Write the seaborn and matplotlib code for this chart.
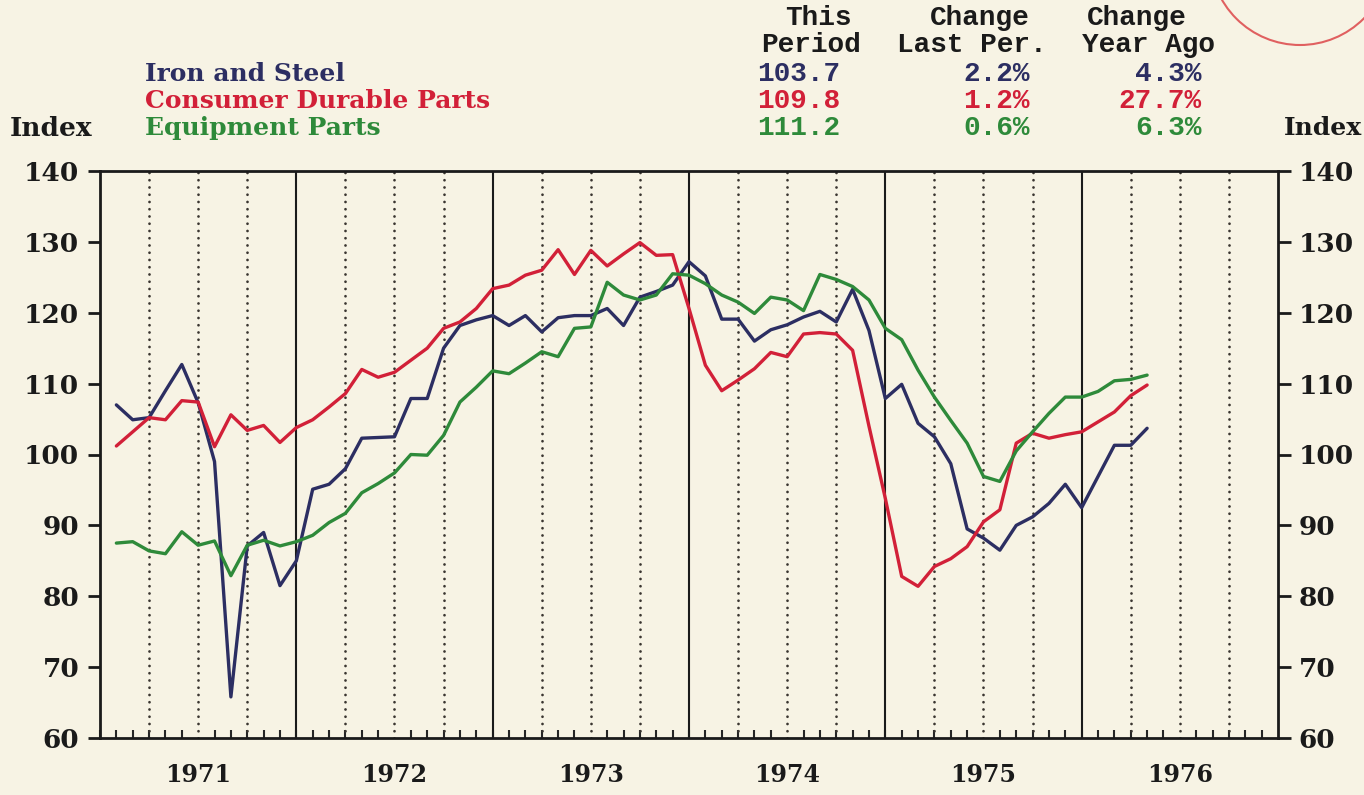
import numpy as np
import pandas as pd
import seaborn as sns
import matplotlib.pyplot as plt
from matplotlib.patches import Circle

W, H = 1364, 795

# monthly index values, Jan 1971 .. Apr 1976
months = pd.period_range('1971-01', '1976-04', freq='M')

iron_steel = [107.0, 104.9, 105.2, 109.0, 112.7, 107.3, 99.0, 65.8, 87.1, 89.0, 81.5, 85.0,
              95.1, 95.8, 98.0, 102.3, 102.4, 102.5, 107.9, 107.9, 115.0, 118.2, 119.0, 119.6,
              118.2, 119.6, 117.3, 119.3, 119.6, 119.6, 120.6, 118.2, 122.2, 123.0, 123.9, 127.2,
              125.2, 119.1, 119.1, 116.0, 117.6, 118.3, 119.4, 120.2, 118.7, 123.3, 117.5, 107.9,
              109.9, 104.4, 102.5, 98.7, 89.5, 88.2, 86.5, 90.0, 91.2, 93.1, 95.8, 92.5,
              96.9, 101.3, 101.3, 103.7]
consumer_durable = [101.2, 103.2, 105.2, 104.9, 107.6, 107.4, 101.1, 105.6, 103.4, 104.1, 101.7, 103.8,
                    104.9, 106.7, 108.6, 112.0, 110.9, 111.6, 113.3, 115.0, 117.8, 118.7, 120.6, 123.4,
                    123.9, 125.3, 126.0, 128.9, 125.4, 128.8, 126.6, 128.3, 129.9, 128.1, 128.2, 120.6,
                    112.6, 109.0, 110.5, 112.1, 114.4, 113.8, 117.0, 117.2, 117.0, 114.7, 104.0, 93.8,
                    82.8, 81.4, 84.2, 85.3, 87.0, 90.5, 92.2, 101.6, 103.0, 102.3, 102.8, 103.2,
                    104.6, 106.0, 108.3, 109.8]
equipment = [87.5, 87.7, 86.4, 86.0, 89.1, 87.2, 87.8, 82.9, 87.2, 87.9, 87.1, 87.7,
             88.6, 90.4, 91.7, 94.6, 95.9, 97.4, 100.0, 99.9, 102.7, 107.4, 109.5, 111.8,
             111.4, 112.9, 114.5, 113.8, 117.8, 118.0, 124.3, 122.5, 121.8, 122.5, 125.5, 125.3,
             124.1, 122.5, 121.5, 119.9, 122.2, 121.8, 120.3, 125.4, 124.7, 123.7, 121.8, 117.8,
             116.2, 111.9, 108.1, 104.8, 101.6, 96.9, 96.2, 100.5, 103.2, 105.8, 108.1, 108.1,
             108.9, 110.4, 110.6, 111.2]

series_names = ['Iron and Steel', 'Consumer Durable Parts', 'Equipment Parts']
colors = ['#2c2e62', '#d22038', '#2e8a3a']
this_period = ['103.7', '109.8', '111.2']
change_last = ['2.2%', '1.2%', '0.6%']
change_year = ['4.3%', '27.7%', '6.3%']
years = [1971, 1972, 1973, 1974, 1975, 1976]
y_ticks = [60, 70, 80, 90, 100, 110, 120, 130, 140]

# points sit at the end of each month
xpos = months.year + months.month / 12
df = pd.DataFrame({
    'x': np.tile(xpos, 3),
    'value': iron_steel + consumer_durable + equipment,
    'series': np.repeat(series_names, len(months)),
})

bg = '#f7f3e4'
sns.set_style('white')
plt.rcParams['font.family'] = ['DejaVu Serif', 'DejaVu Sans']
plt.rcParams['font.weight'] = 'bold'

fig = plt.figure(figsize=(W / 100, H / 100), dpi=100, facecolor=bg)
ax = fig.add_axes([100 / W, 1 - 738 / H, 1178 / W, 567 / H], facecolor=bg)

# grid: beaded dots at quarters, solid lines at years
for yr in years:
    for q in (0.25, 0.5, 0.75):
        ax.axvline(yr + q, color='#3a3530', lw=2.0, ls=(0, (0.01, 2.6)),
                   dash_capstyle='round', zorder=1)
    if yr > years[0]:
        ax.axvline(yr, color='#1a1a1a', lw=1.5, zorder=1)

sns.lineplot(data=df, x='x', y='value', hue='series', palette=dict(zip(series_names, colors)),
             hue_order=series_names, estimator=None, linewidth=2.4, legend=False, ax=ax, zorder=3)

ax.set_xlim(years[0], years[-1] + 1)
ax.set_ylim(60, 140)
ax.set_xlabel('')
ax.set_ylabel('')

ax.set_yticks(y_ticks)
ax.tick_params(axis='y', direction='out', length=9, width=2, labelsize=19, pad=6,
               left=True, right=True, labelleft=True, labelright=True, colors='#1a1a1a')

ax.set_xticks([y + 0.5 for y in years])
ax.set_xticklabels([str(y) for y in years], fontsize=17)
ax.set_xticks(np.arange(years[0], years[-1] + 1, 1 / 12), minor=True)
ax.tick_params(axis='x', which='major', length=0, pad=18, colors='#1a1a1a')
ax.tick_params(axis='x', which='minor', direction='in', length=6, width=1.5, bottom=True)

for s in ax.spines.values():
    s.set_linewidth(2)
    s.set_color('#1a1a1a')


def px(x, y):
    return x / W, 1 - y / H


# header block
fig.text(*px(10, 128), 'Index', fontsize=19, va='center', ha='left', color='#1a1a1a')
fig.text(*px(1362, 128), 'Index', fontsize=18, va='center', ha='right', color='#1a1a1a')
for i, name in enumerate(series_names):
    fig.text(*px(145, 74 + 27 * i), name, fontsize=18, va='center', ha='left', color=colors[i])

mono = dict(family='Liberation Mono', fontsize=20, fontweight='bold', va='center')
fig.text(*px(818, 18), 'This', ha='center', color='#1a1a1a', **mono)
fig.text(*px(811, 45), 'Period', ha='center', color='#1a1a1a', **mono)
fig.text(*px(980, 18), 'Change', ha='center', color='#1a1a1a', **mono)
fig.text(*px(972, 45), 'Last Per.', ha='center', color='#1a1a1a', **mono)
fig.text(*px(1137, 18), 'Change', ha='center', color='#1a1a1a', **mono)
fig.text(*px(1148, 45), 'Year Ago', ha='center', color='#1a1a1a', **mono)
for i in range(3):
    y = 74 + 27 * i
    fig.text(*px(757, y), this_period[i], ha='left', color=colors[i], **mono)
    fig.text(*px(1030, y), change_last[i], ha='right', color=colors[i], **mono)
    fig.text(*px(1202, y), change_year[i], ha='right', color=colors[i], **mono)

# faint stamp in the corner (inches, so it stays round)
fig.patches.append(Circle((13.0, 8.4), 0.9, transform=fig.dpi_scale_trans,
                          fill=False, edgecolor='#e06060', lw=1.5))

fig.savefig('out.png', dpi=100, facecolor=bg)
